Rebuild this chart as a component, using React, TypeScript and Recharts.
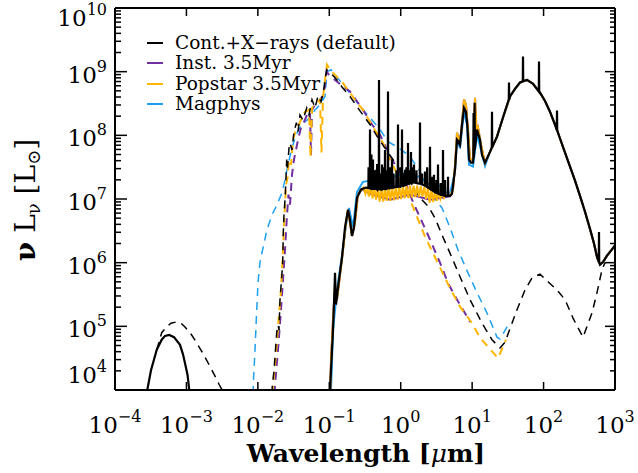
import React from "react"
import { Legend, Line, LineChart, XAxis, YAxis } from "recharts"

type Pt = [number, number]
type Spike = [number, number, number]

// all values are log10(wavelength / um), log10(nu L_nu / Lsun)

const xTicks = [-4, -3, -2, -1, 0, 1, 2, 3]
const yDecades = [4, 5, 6, 7, 8, 9]

// default model, attenuated (solid black)
const xrayCont: Pt[] = [[-3.573, 3.5], [-3.548, 4.0], [-3.496, 4.31], [-3.416, 4.63], [-3.346, 4.79], [-3.3, 4.85], [-3.24, 4.865], [-3.174, 4.83], [-3.09, 4.71], [-3.048, 4.56], [-3.02, 4.42], [-2.985, 4.24], [-2.96, 4.0], [-2.943, 3.5]]
const contUV: Pt[] = [[-1.004, 3.5], [-0.99, 4.0], [-0.948, 4.94], [-0.927, 5.57], [-0.92, 5.84], [-0.906, 5.34], [-0.864, 5.73], [-0.822, 6.08], [-0.78, 6.55], [-0.738, 6.83], [-0.71, 6.67], [-0.682, 6.42], [-0.654, 6.55], [-0.612, 7.02], [-0.556, 7.15], [-0.486, 7.18]]
const contOpt: Pt[] = [[-0.29, 7.15], [-0.08, 7.19], [0.172, 7.26], [0.34, 7.21], [0.48, 7.11], [0.62, 7.05], [0.69, 7.05]]
const contMIR: Pt[] = [[0.718, 7.08], [0.76, 7.46], [0.788, 7.93], [0.809, 7.9], [0.83, 7.85], [0.858, 8.17], [0.886, 8.43], [0.914, 8.37], [0.935, 8.12], [0.956, 7.62], [0.984, 7.57], [1.012, 7.57], [1.068, 8.09], [1.11, 7.93], [1.138, 7.69]]
// emission lines: [lambda, continuum, peak]
const contLines: Spike[] = [
  [-0.45, 7.17, 7.5], [-0.43, 7.17, 8.09], [-0.41, 7.16, 7.7], [-0.388, 7.16, 7.62], [-0.37, 7.16, 7.45], [-0.346, 7.16, 7.46],
  [-0.33, 7.15, 7.55], [-0.304, 7.15, 8.87], [-0.28, 7.15, 7.4], [-0.262, 7.15, 7.54], [-0.24, 7.16, 7.5], [-0.22, 7.16, 7.77],
  [-0.2, 7.16, 7.45], [-0.178, 7.17, 8.69], [-0.15, 7.17, 7.5], [-0.122, 7.18, 7.62], [-0.1, 7.18, 7.4], [-0.06, 7.19, 7.45],
  [-0.038, 7.19, 8.17], [0.0, 7.2, 7.5], [0.018, 7.21, 8.09], [0.04, 7.21, 7.4], [0.06, 7.22, 7.46], [0.08, 7.23, 7.5],
  [0.102, 7.24, 7.88], [0.12, 7.24, 7.45], [0.144, 7.25, 7.74], [0.16, 7.25, 7.5], [0.186, 7.26, 7.54], [0.22, 7.25, 7.45],
  [0.27, 7.24, 8.2], [0.3, 7.23, 7.4], [0.34, 7.21, 7.43], [0.37, 7.19, 7.5], [0.41, 7.16, 7.82], [0.44, 7.14, 7.35],
  [0.466, 7.12, 7.38], [0.5, 7.1, 7.3], [0.522, 7.09, 7.54], [0.56, 7.07, 7.25], [0.592, 7.06, 7.77], [0.62, 7.05, 7.3],
  [0.662, 7.05, 7.35], [1.02, 7.64, 8.35], [1.035, 7.78, 8.51], [1.278, 7.81, 8.37], [1.516, 8.56, 8.83], [1.712, 8.85, 9.24],
  [1.936, 8.69, 9.16], [2.188, 8.08, 8.39], [2.776, 6.01, 6.48],
]
const firBump: Pt[] = [[1.18, 7.57], [1.25, 7.74], [1.348, 7.98], [1.432, 8.28], [1.53, 8.61], [1.6, 8.73], [1.67, 8.83], [1.768, 8.87], [1.852, 8.81], [1.95, 8.67], [2.02, 8.54], [2.09, 8.37], [2.16, 8.17], [2.23, 7.95], [2.3, 7.73], [2.37, 7.51], [2.44, 7.29], [2.51, 7.05], [2.58, 6.8], [2.65, 6.53], [2.706, 6.3], [2.748, 6.09], [2.79, 5.97], [2.832, 6.01], [2.888, 6.11], [2.944, 6.19], [3.0, 6.27], [3.07, 6.35]]

// default model, intrinsic (dashed black)
const xrayIntr: Pt[] = [[-3.416, 4.63], [-3.346, 4.9], [-3.276, 4.99], [-3.216, 5.05], [-3.136, 5.07], [-3.076, 5.05], [-3.02, 4.99], [-2.936, 4.88], [-2.856, 4.74], [-2.782, 4.6], [-2.694, 4.42], [-2.614, 4.25], [-2.544, 4.09], [-2.484, 3.97], [-2.43, 3.5]]
const contIntr: Pt[] = [[-1.83, 3.5], [-1.802, 4.0], [-1.774, 4.31], [-1.736, 4.9], [-1.718, 5.02], [-1.704, 4.94], [-1.69, 5.42], [-1.669, 5.73], [-1.652, 6.01], [-1.644, 6.47], [-1.634, 6.75], [-1.62, 6.99], [-1.613, 7.14], [-1.596, 7.62], [-1.585, 7.49], [-1.564, 7.8], [-1.55, 7.88], [-1.522, 7.77], [-1.494, 8.06], [-1.46, 8.2], [-1.438, 8.06], [-1.41, 8.32], [-1.368, 8.24], [-1.316, 8.43], [-1.284, 8.32], [-1.242, 8.56], [-1.2, 8.43], [-1.158, 8.62], [-1.116, 8.53], [-1.084, 8.67], [-1.06, 8.87], [-1.036, 9.03], [-1.004, 9.0], [-0.948, 8.94], [-0.892, 8.87], [-0.822, 8.76], [-0.71, 8.61], [-0.612, 8.45], [-0.528, 8.32], [-0.43, 8.17], [-0.318, 7.96], [-0.178, 7.73], [-0.01, 7.46], [0.13, 7.24], [0.27, 7.02], [0.382, 6.89], [0.48, 6.7], [0.592, 6.4], [0.69, 6.15], [0.83, 5.78], [0.97, 5.42], [1.138, 5.05], [1.278, 4.79], [1.39, 4.66], [1.46, 4.75], [1.558, 5.05], [1.628, 5.26], [1.74, 5.57], [1.838, 5.76], [1.95, 5.82], [2.062, 5.7], [2.188, 5.57], [2.3, 5.42], [2.412, 5.13], [2.552, 4.83], [2.678, 5.21], [2.748, 5.53], [2.818, 5.89], [2.86, 6.0]]

// Inst. 3.5Myr
const instIntr: Pt[] = [[-1.788, 3.5], [-1.76, 4.08], [-1.718, 4.63], [-1.676, 5.26], [-1.648, 5.73], [-1.62, 6.2], [-1.592, 6.75], [-1.571, 7.07], [-1.55, 6.91], [-1.522, 7.38], [-1.494, 7.62], [-1.466, 7.77], [-1.438, 7.93], [-1.396, 8.12], [-1.354, 8.21], [-1.312, 8.32], [-1.27, 8.37], [-1.256, 7.69], [-1.242, 8.4], [-1.186, 8.5], [-1.13, 8.56], [-1.074, 8.64], [-1.039, 9.0], [-1.004, 8.95], [-0.92, 8.87], [-0.822, 8.78], [-0.71, 8.69], [-0.528, 8.4], [-0.402, 8.17], [-0.29, 8.01], [-0.15, 7.68], [-0.038, 7.46], [0.06, 7.29], [0.158, 6.99], [0.242, 6.78], [0.368, 6.47], [0.55, 6.0], [0.662, 5.68], [0.788, 5.42], [0.872, 5.26], [0.97, 5.07]]
const attenRise: Pt[] = [[-0.997, 3.5], [-0.976, 4.47], [-0.948, 5.1], [-0.92, 5.65], [-0.892, 5.42], [-0.85, 5.81], [-0.808, 6.2], [-0.766, 6.64], [-0.738, 6.83], [-0.682, 6.42], [-0.64, 6.64], [-0.598, 7.07], [-0.545, 7.15]]
const instOpt: Pt[] = [[-0.4, 7.07], [-0.15, 6.99], [0.13, 7.07], [0.41, 6.99], [0.69, 7.04]]

// Popstar 3.5Myr
const popIntr: Pt[] = [[-1.816, 3.5], [-1.788, 4.08], [-1.76, 4.39], [-1.732, 4.79], [-1.704, 5.18], [-1.676, 5.57], [-1.648, 6.2], [-1.627, 6.75], [-1.606, 7.22], [-1.585, 7.33], [-1.564, 7.62], [-1.536, 7.54], [-1.508, 7.93], [-1.466, 8.09], [-1.424, 8.17], [-1.382, 8.28], [-1.34, 8.37], [-1.284, 8.4], [-1.263, 7.65], [-1.242, 8.43], [-1.186, 8.5], [-1.13, 8.56], [-1.109, 7.73], [-1.088, 8.59], [-1.06, 8.87], [-1.032, 9.11], [-0.99, 9.03], [-0.92, 8.95], [-0.822, 8.84], [-0.71, 8.67], [-0.612, 8.51], [-0.528, 8.4], [-0.388, 8.13], [-0.248, 7.88], [-0.15, 7.62], [-0.01, 7.3], [0.13, 6.99], [0.228, 6.72], [0.34, 6.41], [0.452, 6.15], [0.578, 5.86], [0.69, 5.6], [0.83, 5.31], [0.998, 5.05], [1.11, 4.82], [1.222, 4.68], [1.362, 4.5], [1.432, 4.68], [1.474, 4.79]]
// dense absorption-line forest, upper and lower envelope alternating
const popOpt: Pt[] = [[-0.52, 7.18], [-0.495, 7.08], [-0.47, 7.18], [-0.445, 7.04], [-0.42, 7.18], [-0.395, 7.01], [-0.37, 7.18], [-0.345, 6.99], [-0.32, 7.17], [-0.295, 6.96], [-0.27, 7.17], [-0.245, 6.96], [-0.22, 7.17], [-0.195, 6.97], [-0.17, 7.18], [-0.145, 6.97], [-0.12, 7.18], [-0.095, 6.98], [-0.07, 7.19], [-0.045, 6.99], [-0.02, 7.19], [0.005, 7.0], [0.03, 7.2], [0.055, 7.01], [0.08, 7.2], [0.105, 7.02], [0.13, 7.21], [0.155, 7.02], [0.18, 7.21], [0.205, 7.03], [0.23, 7.21], [0.255, 7.03], [0.28, 7.2], [0.305, 7.04], [0.33, 7.19], [0.355, 7.0], [0.38, 7.17], [0.405, 6.94], [0.43, 7.15], [0.455, 6.95], [0.48, 7.13], [0.505, 6.97], [0.53, 7.11], [0.555, 7.0], [0.58, 7.1], [0.605, 7.02], [0.63, 7.08], [0.655, 7.05], [0.69, 7.06]]
const popMIR: Pt[] = [[0.732, 7.15], [0.76, 7.52], [0.788, 8.04], [0.816, 7.93], [0.844, 8.01], [0.886, 8.56], [0.914, 8.48], [0.942, 8.09], [0.97, 7.62], [1.012, 7.62], [1.04, 8.59], [1.061, 8.09], [1.082, 8.13], [1.124, 7.85]]

// Magphys
const magIntr: Pt[] = [[-2.082, 3.5], [-2.061, 4.16], [-2.04, 4.63], [-2.019, 5.18], [-1.998, 5.68], [-1.97, 6.01], [-1.928, 6.23], [-1.872, 6.52], [-1.802, 6.75], [-1.732, 6.91], [-1.662, 7.1], [-1.62, 7.3], [-1.578, 7.54], [-1.522, 7.8], [-1.466, 8.01], [-1.41, 8.12], [-1.34, 8.21], [-1.27, 8.28], [-1.2, 8.4], [-1.13, 8.48], [-1.06, 8.61], [-1.032, 9.0], [-0.976, 9.03], [-0.892, 8.91], [-0.78, 8.76], [-0.64, 8.56], [-0.528, 8.4], [-0.43, 8.28], [-0.29, 8.09], [-0.178, 7.9], [-0.052, 7.82], [0.06, 7.73], [0.158, 7.62], [0.27, 7.43], [0.368, 7.19], [0.48, 6.99], [0.578, 6.86], [0.69, 6.55], [0.802, 6.2], [0.942, 5.84], [1.068, 5.53], [1.208, 5.21], [1.348, 4.83], [1.39, 4.8], [1.488, 4.99], [1.53, 5.05]]
const magUV: Pt[] = [[-0.99, 3.5], [-0.948, 4.94], [-0.892, 5.57], [-0.822, 6.12], [-0.766, 6.59], [-0.724, 6.86], [-0.668, 6.55], [-0.612, 7.11], [-0.528, 7.27], [-0.36, 7.3], [-0.15, 7.33], [0.06, 7.41], [0.158, 7.33], [0.27, 7.36], [0.368, 7.25], [0.452, 7.18], [0.55, 7.21], [0.634, 7.11], [0.69, 7.08]]
const magMIR: Pt[] = [[0.76, 7.43], [0.788, 7.93], [0.83, 7.8], [0.886, 8.37], [0.928, 8.17], [0.956, 7.54], [1.012, 7.51], [1.068, 8.01], [1.124, 7.77], [1.18, 7.52]]

const BLACK = "#000000"
const PURPLE = "#7030a0"
const ORANGE = "#ffb400"
const BLUE = "#1fa0f2"
const FONT = "'DejaVu Serif', serif"

const LEFT = 115
const RIGHT = 615
const TOP = 8
const BOTTOM = 390

const spikes = (s: Spike[]): Pt[] => s.flatMap(([l, c, p]) => [[l - 0.003, c], [l, p], [l + 0.003, c]] as Pt[])
const toData = (pts: Pt[]) => [...pts].sort((a, b) => a[0] - b[0]).map(([l, v]) => ({ x: 10 ** l, y: 10 ** v }))

const series = [
  { key: "magIntr", data: toData(magIntr), color: BLUE, dash: "8 6", width: 1.5 },
  { key: "instIntr", data: toData(instIntr), color: PURPLE, dash: "8 6", width: 2 },
  { key: "popIntr", data: toData(popIntr), color: ORANGE, dash: "8 6", width: 2 },
  { key: "contIntr", data: toData([...xrayIntr, ...contIntr]), color: BLACK, dash: "8 6", width: 1.5 },
  { key: "magSolid", data: toData([...magUV, ...magMIR, ...firBump.slice(1)]), color: BLUE, dash: undefined, width: 2 },
  { key: "instSolid", data: toData([...attenRise, ...instOpt, ...popMIR, ...firBump]), color: PURPLE, dash: undefined, width: 2 },
  { key: "popSolid", data: toData([...attenRise, ...popOpt, ...popMIR, ...firBump]), color: ORANGE, dash: undefined, width: 2 },
  { key: "contSolid", data: toData([...xrayCont, ...contUV, ...contOpt, ...contMIR, ...firBump, ...spikes(contLines)]), color: BLACK, dash: undefined, width: 2.2 },
]

const legendItems = [
  { label: "Cont.+X−rays (default)", color: BLACK },
  { label: "Inst. 3.5Myr", color: PURPLE },
  { label: "Popstar 3.5Myr", color: ORANGE },
  { label: "Magphys", color: BLUE },
]

const yTicks: number[] = [...yDecades.flatMap((d) => [1, 2, 3, 4, 5, 6, 7, 8, 9].map((k) => k * 10 ** d)), 1e10]

const expText = (n: number) => (n < 0 ? `−${-n}` : `${n}`)

function XTick(props: any) {
  const { x, payload } = props
  const n = Math.round(Math.log10(payload.value))
  return (
    <g>
      <line x1={x} x2={x} y1={BOTTOM} y2={BOTTOM - 8} stroke="#000" strokeWidth={1.5} />
      <line x1={x} x2={x} y1={TOP} y2={TOP + 8} stroke="#000" strokeWidth={1.5} />
      <text x={x} y={433} textAnchor="middle" fontFamily={FONT} fontSize={23} fill="#000">
        10<tspan dy={-11} fontSize={16}>{expText(n)}</tspan>
      </text>
    </g>
  )
}

function YTick(props: any) {
  const { y, payload } = props
  const lg = Math.log10(payload.value)
  const n = Math.round(lg)
  const major = Math.abs(lg - n) < 1e-6
  const base = n === 4 ? y - 7 : n === 10 ? y + 18 : y + 11
  return (
    <g>
      <line x1={LEFT} x2={LEFT + (major ? 12 : 6)} y1={y} y2={y} stroke="#000" strokeWidth={1.5} />
      <line x1={RIGHT - (major ? 10 : 5)} x2={RIGHT} y1={y} y2={y} stroke="#000" strokeWidth={1.5} />
      {major && (
        <text x={107} y={base} textAnchor="end" fontFamily={FONT} fontSize={23} fill="#000">
          10<tspan dy={-11} fontSize={16}>{n}</tspan>
        </text>
      )}
    </g>
  )
}

function XTitle() {
  return (
    <text x={366} y={462} textAnchor="middle" fontFamily={FONT} fontSize={25} fontWeight="bold" fill="#000">
      Wavelength [<tspan fontStyle="italic" fontWeight="normal">μ</tspan>m]
    </text>
  )
}

function YTitle() {
  return (
    <text x={35} y={200} transform="rotate(-90 35 200)" textAnchor="middle" fontFamily={FONT} fontSize={28} fill="#000">
      <tspan fontWeight="bold">ν</tspan>
      {" L"}
      <tspan fontSize={18} dy={5}>ν</tspan>
      <tspan dy={-5}>{" [L"}</tspan>
      <tspan fontSize={18} dy={5}>⊙</tspan>
      <tspan dy={-5}>]</tspan>
    </text>
  )
}

function LegendBox() {
  return (
    <div style={{ fontFamily: FONT, fontSize: 18.5, color: "#000", lineHeight: "20.3px" }}>
      {legendItems.map((it) => (
        <div key={it.label} style={{ display: "flex", alignItems: "center", whiteSpace: "nowrap" }}>
          <span style={{ display: "inline-block", width: 16, height: 2, background: it.color, marginRight: 12 }} />
          {it.label}
        </div>
      ))}
    </div>
  )
}

// axes need a non-zero size to be drawn, so each takes 1px from the margin
export default function App() {
  return (
    <div style={{ position: "absolute", left: 0, top: 0, width: 638, height: 473, background: "#fff" }}>
      <LineChart width={638} height={473} margin={{ top: TOP - 1, right: 638 - RIGHT - 1, bottom: 473 - BOTTOM - 1, left: LEFT - 1 }}>
        <XAxis
          xAxisId="b"
          type="number"
          dataKey="x"
          scale="log"
          domain={[1e-4, 1e3]}
          allowDataOverflow
          ticks={xTicks.map((n) => 10 ** n)}
          interval={0}
          tick={<XTick />}
          tickLine={false}
          axisLine={{ stroke: "#000", strokeWidth: 2 }}
          height={1}
          label={<XTitle />}
        />
        <XAxis
          xAxisId="t"
          orientation="top"
          type="number"
          scale="log"
          domain={[1e-4, 1e3]}
          allowDataOverflow
          ticks={xTicks.map((n) => 10 ** n)}
          tick={false}
          tickLine={false}
          axisLine={{ stroke: "#000", strokeWidth: 2 }}
          height={1}
        />
        <YAxis
          yAxisId="l"
          type="number"
          scale="log"
          domain={[1e4, 1e10]}
          allowDataOverflow
          ticks={yTicks}
          interval={0}
          tick={<YTick />}
          tickLine={false}
          axisLine={{ stroke: "#000", strokeWidth: 2 }}
          width={1}
          label={<YTitle />}
        />
        <YAxis
          yAxisId="r"
          orientation="right"
          type="number"
          scale="log"
          domain={[1e4, 1e10]}
          allowDataOverflow
          ticks={yTicks}
          tick={false}
          tickLine={false}
          axisLine={{ stroke: "#000", strokeWidth: 2 }}
          width={1}
        />
        {series.map((s) => (
          <Line
            key={s.key}
            xAxisId="b"
            yAxisId="l"
            data={s.data}
            dataKey="y"
            type="linear"
            stroke={s.color}
            strokeWidth={s.width}
            strokeDasharray={s.dash}
            dot={false}
            activeDot={false}
            isAnimationActive={false}
            legendType="none"
          />
        ))}
        <Legend
          layout="vertical"
          align="center"
          verticalAlign="middle"
          wrapperStyle={{ left: 147, top: 33, width: "auto", height: "auto" }}
          content={() => <LegendBox />}
        />
      </LineChart>
    </div>
  )
}
